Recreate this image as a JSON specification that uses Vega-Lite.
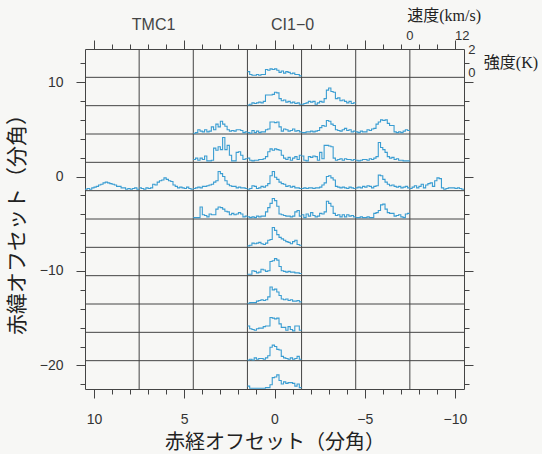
{
  "$schema": "https://vega.github.io/schema/vega-lite/v6.json",
  "autosize": {"type": "none"},
  "padding": {"left": 85, "top": 49, "right": 78, "bottom": 65},
  "width": 379,
  "height": 340,
  "background": "#f7f7f5",
  "config": {"view": {"stroke": "#444", "strokeWidth": 1}},
  "datasets": {
    "spectra": [
      {"id": 1, "ra": 0, "dec": 12, "v": [0,0.5,1,1.5,2,2.5,3,3.5,4,4.5,5,5.5,6,6.5,7,7.5,8,8.5,9,9.5,10,10.5,11,11.5,12], "t": [0.4,0.2,0.15,0.15,0.2,0.15,0.2,0.2,0.55,0.5,0.6,0.55,0.6,0.5,0.35,0.45,0.3,0.4,0.35,0.25,0.3,0.2,0.2,0.1,0.1]},
      {"id": 2, "ra": 0, "dec": 9, "v": [0,0.5,1,1.5,2,2.5,3,3.5,4,4.5,5,5.5,6,6.5,7,7.5,8,8.5,9,9.5,10,10.5,11,11.5,12], "t": [0.05,0.1,0.2,0.15,0.2,0.25,0.2,0.3,0.75,0.75,0.75,0.8,0.95,0.9,0.5,0.35,0.4,0.25,0.3,0.2,0.25,0.15,0.2,0.1,0.1]},
      {"id": 3, "ra": -3, "dec": 9, "v": [0,0.5,1,1.5,2,2.5,3,3.5,4,4.5,5,5.5,6,6.5,7,7.5,8,8.5,9,9.5,10,10.5,11,11.5,12], "t": [0.1,0.15,0.2,0.3,0.25,0.3,0.1,0.2,0.3,0.25,0.5,1.1,1.25,1.0,0.95,0.5,0.55,0.35,0.4,0.3,0.2,0.3,0.15,0.2,0.2]},
      {"id": 4, "ra": 3, "dec": 6, "v": [0,0.5,1,1.5,2,2.5,3,3.5,4,4.5,5,5.5,6,6.5,7,7.5,8,8.5,9,9.5,10,10.5,11,11.5,12], "t": [0.05,0.1,0.3,0.2,0.15,0.3,0.15,0.2,0.5,0.3,0.7,0.5,0.9,0.7,0.55,0.3,0.2,0.25,0.2,0.3,0.3,0.25,0.1,0.15,0.15]},
      {"id": 5, "ra": 0, "dec": 6, "v": [0,0.5,1,1.5,2,2.5,3,3.5,4,4.5,5,5.5,6,6.5,7,7.5,8,8.5,9,9.5,10,10.5,11,11.5,12], "t": [0.1,0.05,0.25,0.1,0.2,0.1,0.15,0.15,0.3,0.35,0.85,0.85,0.8,0.85,0.5,0.2,0.35,0.3,0.2,0.25,0.35,0.2,0.25,0.15,0.15]},
      {"id": 6, "ra": -3, "dec": 6, "v": [0,0.5,1,1.5,2,2.5,3,3.5,4,4.5,5,5.5,6,6.5,7,7.5,8,8.5,9,9.5,10,10.5,11,11.5,12], "t": [0.1,0.1,0.15,0.15,0.2,0.15,0.2,0.25,0.45,0.6,0.55,0.95,0.9,0.7,0.6,0.3,0.25,0.2,0.3,0.4,0.25,0.3,0.15,0.2,0.2]},
      {"id": 7, "ra": -6, "dec": 6, "v": [0,0.5,1,1.5,2,2.5,3,3.5,4,4.5,5,5.5,6,6.5,7,7.5,8,8.5,9,9.5,10,10.5,11,11.5,12], "t": [0.15,0.1,0.2,0.15,0.15,0.3,0.25,0.35,0.4,0.7,0.85,1.0,0.95,1.0,0.75,0.6,0.6,0.15,0.1,0.15,0.1,0.2,0.3,0.25,0.25]},
      {"id": 8, "ra": 3, "dec": 3, "v": [0,0.5,1,1.5,2,2.5,3,3.5,4,4.5,5,5.5,6,6.5,7,7.5,8,8.5,9,9.5,10,10.5,11,11.5,12], "t": [0.2,0.3,0.15,0.3,0.2,0.45,0.1,0.1,0.15,1.0,0.85,1.1,0.9,1.75,0.9,1.2,0.5,0.1,0.1,0.7,0.75,0.5,0.2,0.25,0.25]},
      {"id": 9, "ra": 0, "dec": 3, "v": [0,0.5,1,1.5,2,2.5,3,3.5,4,4.5,5,5.5,6,6.5,7,7.5,8,8.5,9,9.5,10,10.5,11,11.5,12], "t": [0.3,0.15,0.1,0.15,0.15,0.2,0.2,0.25,0.4,0.75,0.95,0.85,0.95,0.9,0.85,0.5,0.3,0.2,0.35,0.15,0.3,0.4,0.2,0.5,0.5]},
      {"id": 10, "ra": -3, "dec": 3, "v": [0,0.5,1,1.5,2,2.5,3,3.5,4,4.5,5,5.5,6,6.5,7,7.5,8,8.5,9,9.5,10,10.5,11,11.5,12], "t": [0.45,0.15,0.1,0.4,0.35,0.45,0.4,0.15,0.7,0.25,1.2,1.2,1.15,1.1,0.3,0.15,0.2,0.25,0.15,0.25,0.2,0.2,0.15,0.2,0.2]},
      {"id": 11, "ra": -6, "dec": 3, "v": [0,0.5,1,1.5,2,2.5,3,3.5,4,4.5,5,5.5,6,6.5,7,7.5,8,8.5,9,9.5,10,10.5,11,11.5,12], "t": [0.15,0.1,0.15,0.2,0.2,0.15,0.25,0.2,0.3,0.4,1.4,1.05,0.9,0.7,0.4,0.3,0.35,0.2,0.25,0.15,0.15,0.1,0.1,0.1,0.1]},
      {"id": 12, "ra": 9, "dec": 0, "v": [0,0.5,1,1.5,2,2.5,3,3.5,4,4.5,5,5.5,6,6.5,7,7.5,8,8.5,9,9.5,10,10.5,11,11.5,12], "t": [0.1,0.15,0.1,0.2,0.25,0.3,0.4,0.45,0.55,0.6,0.55,0.5,0.45,0.4,0.3,0.3,0.2,0.2,0.1,0.15,0.1,0.15,0.2,0.1,0.1]},
      {"id": 13, "ra": 6, "dec": 0, "v": [0,0.5,1,1.5,2,2.5,3,3.5,4,4.5,5,5.5,6,6.5,7,7.5,8,8.5,9,9.5,10,10.5,11,11.5,12], "t": [0.2,0.15,0.1,0.2,0.15,0.2,0.45,0.4,0.6,0.7,0.75,0.9,0.8,0.7,0.65,0.4,0.3,0.2,0.25,0.2,0.15,0.25,0.15,0.1,0.1]},
      {"id": 14, "ra": 3, "dec": 0, "v": [0,0.5,1,1.5,2,2.5,3,3.5,4,4.5,5,5.5,6,6.5,7,7.5,8,8.5,9,9.5,10,10.5,11,11.5,12], "t": [0.15,0.2,0.25,0.2,0.3,0.3,0.35,0.4,0.45,0.6,0.7,1.35,1.2,1.0,0.7,0.45,0.35,0.3,0.3,0.2,0.25,0.2,0.2,0.15,0.15]},
      {"id": 15, "ra": 0, "dec": 0, "v": [0,0.5,1,1.5,2,2.5,3,3.5,4,4.5,5,5.5,6,6.5,7,7.5,8,8.5,9,9.5,10,10.5,11,11.5,12], "t": [0.1,0.15,0.35,0.3,0.15,0.2,0.3,0.25,0.35,0.5,1.05,1.35,0.95,0.8,0.6,0.5,0.45,0.3,0.35,0.25,0.3,0.2,0.2,0.15,0.15]},
      {"id": 16, "ra": -3, "dec": 0, "v": [0,0.5,1,1.5,2,2.5,3,3.5,4,4.5,5,5.5,6,6.5,7,7.5,8,8.5,9,9.5,10,10.5,11,11.5,12], "t": [0.15,0.2,0.15,0.2,0.2,0.15,0.2,0.2,0.25,0.4,0.55,1.0,1.05,0.9,0.75,0.3,0.25,0.2,0.25,0.2,0.15,0.25,0.2,0.15,0.15]},
      {"id": 17, "ra": -6, "dec": 0, "v": [0,0.5,1,1.5,2,2.5,3,3.5,4,4.5,5,5.5,6,6.5,7,7.5,8,8.5,9,9.5,10,10.5,11,11.5,12], "t": [0.2,0.25,0.2,0.3,0.25,0.35,0.3,0.2,0.3,0.35,1.1,1.05,0.8,0.6,0.45,0.35,0.4,0.3,0.25,0.3,0.2,0.25,0.3,0.2,0.2]},
      {"id": 18, "ra": -9, "dec": 0, "v": [0,0.5,1,1.5,2,2.5,3,3.5,4,4.5,5,5.5,6,6.5,7,7.5,8,8.5,9,9.5,10,10.5,11,11.5,12], "t": [0.15,0.25,0.35,0.2,0.3,0.45,0.2,0.4,0.5,0.55,0.3,0.7,0.9,0.85,0.2,0.1,0.15,0.2,0.2,0.2,0.15,0.2,0.15,0.1,0.1]},
      {"id": 19, "ra": 3, "dec": -3, "v": [0,0.5,1,1.5,2,2.5,3,3.5,4,4.5,5,5.5,6,6.5,7,7.5,8,8.5,9,9.5,10,10.5,11,11.5,12], "t": [0.1,0.1,0.1,0.85,0.3,0.25,0.15,0.35,0.3,0.3,0.7,0.85,0.8,0.7,0.55,0.5,0.3,0.4,0.3,0.35,0.45,0.35,0.15,0.2,0.2]},
      {"id": 20, "ra": 0, "dec": -3, "v": [0,0.5,1,1.5,2,2.5,3,3.5,4,4.5,5,5.5,6,6.5,7,7.5,8,8.5,9,9.5,10,10.5,11,11.5,12], "t": [0.15,0.1,0.15,0.1,0.2,0.15,0.2,0.2,0.5,0.8,1.1,1.45,1.3,0.9,0.35,0.3,0.25,0.2,0.2,0.15,0.2,0.5,0.6,0.2,0.2]},
      {"id": 21, "ra": -3, "dec": -3, "v": [0,0.5,1,1.5,2,2.5,3,3.5,4,4.5,5,5.5,6,6.5,7,7.5,8,8.5,9,9.5,10,10.5,11,11.5,12], "t": [0.3,0.1,0.35,0.2,0.45,0.25,0.15,0.2,0.4,0.35,0.5,1.25,1.1,0.9,0.4,0.25,0.3,0.15,0.3,0.15,0.3,0.2,0.25,0.15,0.15]},
      {"id": 22, "ra": -6, "dec": -3, "v": [0,0.5,1,1.5,2,2.5,3,3.5,4,4.5,5,5.5,6,6.5,7,7.5,8,8.5,9,9.5,10,10.5,11,11.5,12], "t": [0.1,0.1,0.15,0.1,0.1,0.15,0.1,0.1,0.4,0.45,0.6,1.0,1.05,0.7,0.45,0.4,0.4,0.2,0.25,0.3,0.15,0.1,0.35,0.4,0.4]},
      {"id": 23, "ra": 0, "dec": -6, "v": [0,0.5,1,1.5,2,2.5,3,3.5,4,4.5,5,5.5,6,6.5,7,7.5,8,8.5,9,9.5,10,10.5,11,11.5,12], "t": [0.1,0.15,0.3,0.25,0.3,0.35,0.25,0.2,0.3,0.5,0.55,1.4,1.2,0.9,0.7,0.6,0.5,0.4,0.35,0.25,0.4,0.5,0.2,0.15,0.15]},
      {"id": 24, "ra": 0, "dec": -9, "v": [0,0.5,1,1.5,2,2.5,3,3.5,4,4.5,5,5.5,6,6.5,7,7.5,8,8.5,9,9.5,10,10.5,11,11.5,12], "t": [0.1,0.1,0.35,0.3,0.2,0.25,0.45,0.4,0.3,0.35,1.0,1.05,1.2,1.1,0.65,0.35,0.3,0.25,0.3,0.25,0.25,0.2,0.2,0.15,0.15]},
      {"id": 25, "ra": 0, "dec": -12, "v": [0,0.5,1,1.5,2,2.5,3,3.5,4,4.5,5,5.5,6,6.5,7,7.5,8,8.5,9,9.5,10,10.5,11,11.5,12], "t": [0.05,0.1,0.1,0.1,0.2,0.25,0.3,0.25,0.3,0.5,1.2,1.0,1.05,0.85,0.6,0.35,0.3,0.35,0.25,0.3,0.2,0.2,0.25,0.15,0.15]},
      {"id": 26, "ra": 0, "dec": -15, "v": [0,0.5,1,1.5,2,2.5,3,3.5,4,4.5,5,5.5,6,6.5,7,7.5,8,8.5,9,9.5,10,10.5,11,11.5,12], "t": [0.45,0.25,0.2,0.15,0.25,0.3,0.3,0.4,0.45,0.45,1.05,1.0,0.95,1.0,0.6,0.35,0.35,0.15,0.4,0.2,0.1,0.45,0.45,0.15,0.15]},
      {"id": 27, "ra": 0, "dec": -18, "v": [0,0.5,1,1.5,2,2.5,3,3.5,4,4.5,5,5.5,6,6.5,7,7.5,8,8.5,9,9.5,10,10.5,11,11.5,12], "t": [0.05,0.1,0.05,0.2,0.1,0.15,0.15,0.1,0.2,0.35,0.95,1.1,1.0,0.8,0.75,0.3,0.2,0.15,0.1,0.2,0.1,0.15,0.3,0.1,0.1]},
      {"id": 28, "ra": 0, "dec": -21, "v": [0,0.5,1,1.5,2,2.5,3,3.5,4,4.5,5,5.5,6,6.5,7,7.5,8,8.5,9,9.5,10,10.5,11,11.5,12], "t": [0.2,0.05,0.05,0.05,0.05,0.05,0.05,0.05,0.1,0.1,0.3,0.8,0.85,1.0,0.6,0.35,0.5,0.4,0.45,0.45,0.4,0.2,0.35,0.1,0.1]}
    ]
  },
  "resolve": {"axis": {"x": "independent", "y": "independent"}},
  "layer": [
    {
      "data": {"values": [{"ra": 7.5}, {"ra": 4.5}, {"ra": 1.5}, {"ra": -1.5}, {"ra": -4.5}, {"ra": -7.5}]},
      "mark": {"type": "rule", "color": "#444", "strokeWidth": 1},
      "encoding": {
        "x": {"field": "ra", "type": "quantitative", "scale": {"domain": [-10.5, 10.5], "reverse": true, "nice": false, "zero": false}, "axis": null}
      }
    },
    {
      "data": {"values": [{"dec": 10.5}, {"dec": 7.5}, {"dec": 4.5}, {"dec": 1.5}, {"dec": -1.5}, {"dec": -4.5}, {"dec": -7.5}, {"dec": -10.5}, {"dec": -13.5}, {"dec": -16.5}, {"dec": -19.5}]},
      "mark": {"type": "rule", "color": "#444", "strokeWidth": 1},
      "encoding": {
        "y": {"field": "dec", "type": "quantitative", "scale": {"domain": [-22.5, 13.5], "nice": false, "zero": false}, "axis": null}
      }
    },
    {
      "data": {"name": "spectra"},
      "transform": [
        {"flatten": ["v", "t"]},
        {"calculate": "datum.ra + 1.5 - datum.v / 4", "as": "px"},
        {"calculate": "datum.dec - 1.5 + datum.t * 1.5", "as": "py"}
      ],
      "mark": {"type": "line", "interpolate": "step-after", "color": "#3a9dd2", "strokeWidth": 1.1},
      "encoding": {
        "x": {"field": "px", "type": "quantitative", "scale": {"domain": [-10.5, 10.5], "reverse": true, "nice": false, "zero": false},
          "axis": {"orient": "bottom", "values": [-10,-9,-8,-7,-6,-5,-4,-3,-2,-1,0,1,2,3,4,5,6,7,8,9,10],
            "tickSize": {"condition": {"test": "datum.value % 5 === 0", "value": 9}, "value": 5},
            "labelExpr": "datum.value % 5 === 0 ? datum.label : ''",
            "labelFontSize": 14, "labelFont": "Liberation Sans", "labelColor": "#333", "labelPadding": 14,
            "labelFlush": false, "labelOverlap": false, "tickColor": "#444", "domain": false, "grid": false,
            "title": "赤経オフセット（分角）", "titleFont": "Noto Sans CJK JP", "titleFontSize": 20, "titleFontWeight": "normal", "titleColor": "#222", "titlePadding": 6}},
        "y": {"field": "py", "type": "quantitative", "scale": {"domain": [-22.5, 13.5], "nice": false, "zero": false},
          "axis": {"orient": "left", "values": [-22,-20,-18,-16,-14,-12,-10,-8,-6,-4,-2,0,2,4,6,8,10,12],
            "tickSize": {"condition": {"test": "datum.value % 10 === 0", "value": 9}, "value": 5},
            "labelExpr": "datum.value % 10 === 0 ? datum.label : ''",
            "labelFontSize": 14, "labelFont": "Liberation Sans", "labelColor": "#333", "labelPadding": 13,
            "labelFlush": false, "labelOverlap": false, "tickColor": "#444", "domain": false, "grid": false,
            "title": "赤緯オフセット（分角）", "titleFont": "Noto Sans CJK JP", "titleFontSize": 21, "titleFontWeight": "normal", "titleColor": "#222", "titlePadding": 12}},
        "detail": {"field": "id", "type": "nominal"},
        "order": {"field": "v", "type": "quantitative"}
      }
    },
    {
      "data": {"values": [{"label": "TMC1", "x": 6.7, "y": 16}, {"label": "CI1−0", "x": -1.0, "y": 16}]},
      "mark": {"type": "text", "font": "Liberation Sans", "fontSize": 16, "color": "#444", "align": "center", "baseline": "middle"},
      "encoding": {
        "x": {"field": "x", "type": "quantitative", "scale": {"domain": [-10.5, 10.5], "reverse": true, "nice": false, "zero": false},
          "axis": {"orient": "top", "values": [-10,-9,-8,-7,-6,-5,-4,-3,-2,-1,0,1,2,3,4,5,6,7,8,9,10],
            "tickSize": {"condition": {"test": "datum.value % 5 === 0", "value": 9}, "value": 5},
            "labels": false, "tickColor": "#444", "domain": false, "grid": false, "title": null}},
        "y": {"field": "y", "type": "quantitative", "scale": {"domain": [-22.5, 13.5], "nice": false, "zero": false},
          "axis": {"orient": "right", "values": [-22,-20,-18,-16,-14,-12,-10,-8,-6,-4,-2,0,2,4,6,8,10,12],
            "tickSize": {"condition": {"test": "datum.value % 10 === 0", "value": 9}, "value": 5},
            "labels": false, "tickColor": "#444", "domain": false, "grid": false, "title": null}},
        "text": {"field": "label", "type": "nominal"}
      }
    },
    {
      "data": {"values": [{"label": "0", "x": -7.5, "y": 14.9}, {"label": "12", "x": -10.4, "y": 14.9}, {"label": "2", "x": -10.94, "y": 13.4}, {"label": "0", "x": -10.94, "y": 10.95}]},
      "mark": {"type": "text", "font": "Liberation Sans", "fontSize": 13, "color": "#333", "align": "center", "baseline": "middle"},
      "encoding": {
        "x": {"field": "x", "type": "quantitative", "scale": {"domain": [-10.5, 10.5], "reverse": true, "nice": false, "zero": false}, "axis": null},
        "y": {"field": "y", "type": "quantitative", "scale": {"domain": [-22.5, 13.5], "nice": false, "zero": false}, "axis": null},
        "text": {"field": "label", "type": "nominal"}
      }
    },
    {
      "data": {"values": [{"label": "速度(km/s)", "x": -9.4, "y": 17.0}, {"label": "強度(K)", "x": -13.1, "y": 12.0}]},
      "mark": {"type": "text", "font": "Liberation Serif, Noto Sans CJK JP", "fontSize": 16, "color": "#222", "align": "center", "baseline": "middle"},
      "encoding": {
        "x": {"field": "x", "type": "quantitative", "scale": {"domain": [-10.5, 10.5], "reverse": true, "nice": false, "zero": false}, "axis": null},
        "y": {"field": "y", "type": "quantitative", "scale": {"domain": [-22.5, 13.5], "nice": false, "zero": false}, "axis": null},
        "text": {"field": "label", "type": "nominal"}
      }
    }
  ]
}
